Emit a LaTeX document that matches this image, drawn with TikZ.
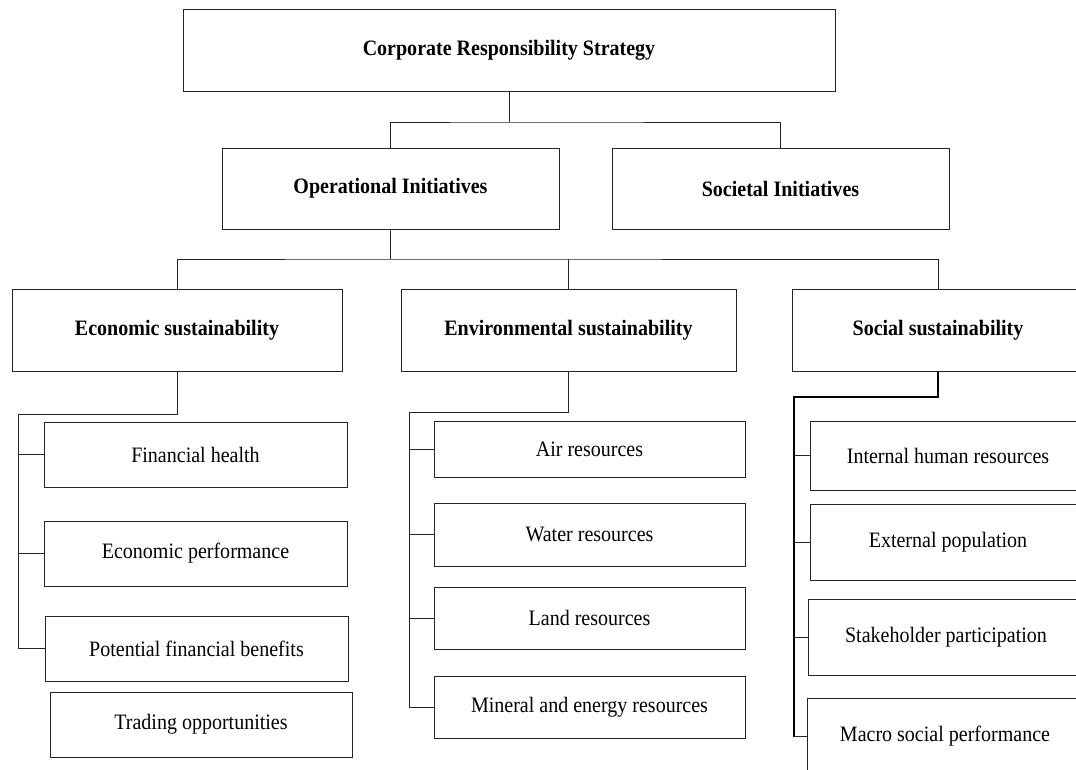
\documentclass[tikz,border=0pt]{standalone}
\usepackage{fontspec}
\setmainfont{Liberation Serif}[FakeStretch=0.91]
\begin{document}
\begin{tikzpicture}[x=1pt,y=-1pt,
  box/.style={draw=black!85,line width=1pt,rectangle,inner sep=0pt,align=center,font=\fontsize{22}{26}\selectfont},
  headbox/.style={box,font=\fontsize{22}{26}\selectfont\bfseries},
  link/.style={draw=black!85,line width=1pt},
  thicklink/.style={draw=black,line width=1.8pt}]
\useasboundingbox (0,0) rectangle (1076,769);
\fill[white] (0,0) rectangle (1076,769);

% level 1 and 2
\node[headbox,minimum width=652pt,minimum height=82pt] (top) at (509,50) {Corporate Responsibility Strategy};
\node[headbox,minimum width=337pt,minimum height=81pt] (op) at (390.5,188.5) {Operational Initiatives};
\node[headbox,minimum width=337pt,minimum height=81pt] (soc) at (780.5,188.5) {Societal Initiatives};

% level 3
\node[headbox,minimum width=330pt,minimum height=82pt] (eco) at (177,330) {Economic sustainability};
\node[headbox,minimum width=335pt,minimum height=82pt] (env) at (568.5,330) {Environmental sustainability};
\node[headbox,minimum width=292pt,minimum height=82pt] (socs) at (938,330) {Social sustainability};

% economic items
\node[box,minimum width=303pt,minimum height=65pt] (fh) at (195.5,454.5) {Financial health};
\node[box,minimum width=303pt,minimum height=65pt] (ep) at (195.5,553.5) {Economic performance};
\node[box,minimum width=303pt,minimum height=65pt] (pfb) at (196.5,648.5) {Potential financial benefits};
\node[box,minimum width=302pt,minimum height=65pt] (trade) at (201,724.5) {Trading opportunities};

% environmental items
\node[box,minimum width=311pt,minimum height=56pt] (air) at (589.5,449) {Air resources};
\node[box,minimum width=311pt,minimum height=63pt] (water) at (589.5,534.5) {Water resources};
\node[box,minimum width=311pt,minimum height=62pt] (land) at (589.5,618) {Land resources};
\node[box,minimum width=311pt,minimum height=62pt] (mineral) at (589.5,707) {Mineral and energy resources};

% social items
\node[box,minimum width=276pt,minimum height=69pt] (ihr) at (948,455.5) {Internal human resources};
\node[box,minimum width=276pt,minimum height=76pt] (ext) at (948,542) {External population};
\node[box,minimum width=276pt,minimum height=76pt] (stake) at (946,637) {Stakeholder participation};
\node[box,minimum width=276pt,minimum height=77pt] (macro) at (945,736.5) {Macro social performance};

% junction points
\coordinate (topJoin) at (509,122);
\coordinate (opJoin) at (390.5,259);
\coordinate (ecoSpine) at (18,414);
\coordinate (envSpine) at (409,412);
\coordinate (socSpine) at (794,397);

% upper tree
\draw[link] (top.south) -- (topJoin);
\draw[link] (op.north) |- (topJoin) -| (soc.north);
\draw[link] (op.south) -- (opJoin);
\draw[link] (eco.north) |- (opJoin) -| (socs.north);
\draw[link] (env.north) -- (env.north |- opJoin);

% economic branch
\draw[link] (eco.south) |- (ecoSpine) |- (pfb.west);
\draw[link] (ecoSpine |- fh.west) -- (fh.west);
\draw[link] (ecoSpine |- ep.west) -- (ep.west);

% environmental branch
\draw[link] (env.south) |- (envSpine) |- (mineral.west);
\draw[link] (envSpine |- air.west) -- (air.west);
\draw[link] (envSpine |- water.west) -- (water.west);
\draw[link] (envSpine |- land.west) -- (land.west);

% social branch
\draw[thicklink] (socs.south) |- (socSpine) -- (socSpine |- macro.west);
\draw[link] (socSpine |- ihr.west) -- (ihr.west);
\draw[link] (socSpine |- ext.west) -- (ext.west);
\draw[link] (socSpine |- stake.west) -- (stake.west);
\draw[link] (socSpine |- macro.west) -- (macro.west);
\end{tikzpicture}
\end{document}
